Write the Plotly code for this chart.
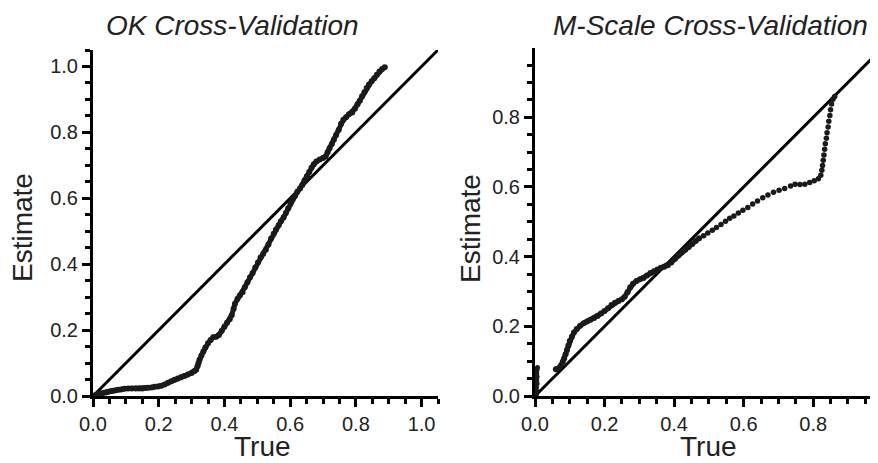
import plotly.graph_objects as go

# ---- data ----
ok_true = [0.003, 0.008, 0.015, 0.022, 0.030, 0.038, 0.046, 0.055, 0.065, 0.075, 0.085, 0.095,
           0.107, 0.118, 0.130, 0.140, 0.150, 0.158, 0.168, 0.178, 0.188, 0.198, 0.208, 0.218,
           0.228, 0.238, 0.248, 0.258, 0.268, 0.278, 0.289, 0.300, 0.308, 0.314, 0.318, 0.321,
           0.324, 0.330, 0.336, 0.342, 0.350, 0.358, 0.366, 0.375, 0.383, 0.392, 0.400, 0.408,
           0.416, 0.422, 0.428, 0.432, 0.440, 0.447, 0.455, 0.462, 0.470, 0.478, 0.486, 0.494,
           0.502, 0.510, 0.518, 0.526, 0.534, 0.542, 0.550, 0.557, 0.565, 0.572, 0.580, 0.587,
           0.594, 0.601, 0.607, 0.615, 0.622, 0.630, 0.637, 0.644, 0.651, 0.658, 0.665, 0.672,
           0.680, 0.690, 0.700, 0.708, 0.714, 0.720, 0.727, 0.733, 0.740, 0.748, 0.755, 0.762,
           0.770, 0.779, 0.789, 0.797, 0.805, 0.812, 0.819, 0.826, 0.833, 0.840, 0.848, 0.856,
           0.864, 0.872, 0.880, 0.888]
ok_est = [0.000, 0.003, 0.005, 0.007, 0.009, 0.011, 0.013, 0.015, 0.017, 0.019, 0.020, 0.022,
          0.023, 0.023, 0.023, 0.023, 0.023, 0.024, 0.025, 0.026, 0.028, 0.029, 0.031, 0.035,
          0.040, 0.045, 0.049, 0.053, 0.057, 0.061, 0.065, 0.070, 0.075, 0.080, 0.090, 0.100,
          0.110, 0.123, 0.135, 0.147, 0.160, 0.170, 0.178, 0.180, 0.185, 0.198, 0.210, 0.222,
          0.233, 0.245, 0.265, 0.280, 0.295, 0.305, 0.315, 0.330, 0.345, 0.360, 0.373, 0.390,
          0.405, 0.420, 0.432, 0.444, 0.460, 0.478, 0.492, 0.505, 0.518, 0.530, 0.542, 0.555,
          0.570, 0.584, 0.596, 0.608, 0.620, 0.630, 0.640, 0.655, 0.667, 0.680, 0.693, 0.703,
          0.712, 0.718, 0.722, 0.727, 0.740, 0.752, 0.765, 0.778, 0.792, 0.808, 0.826, 0.838,
          0.846, 0.855, 0.860, 0.872, 0.885, 0.896, 0.910, 0.922, 0.935, 0.945, 0.955, 0.964,
          0.975, 0.985, 0.992, 0.998]

ms_true = [0.004, 0.005, 0.004, 0.006, 0.005, 0.006, 0.005, 0.006, 0.007,
           0.060, 0.068, 0.075, 0.080, 0.084, 0.088, 0.092, 0.096, 0.100, 0.106, 0.112, 0.120,
           0.130, 0.140, 0.150, 0.160, 0.170, 0.180, 0.190, 0.200, 0.210, 0.220, 0.230, 0.240,
           0.250, 0.258, 0.266, 0.274, 0.282, 0.292, 0.302, 0.312, 0.322, 0.332, 0.342, 0.352,
           0.362, 0.372, 0.382, 0.392, 0.402, 0.412, 0.422, 0.432, 0.442, 0.452, 0.462, 0.472,
           0.485, 0.497, 0.510, 0.522, 0.535, 0.548, 0.560, 0.572, 0.585, 0.598, 0.612, 0.626,
           0.640, 0.655, 0.670, 0.686, 0.702, 0.718, 0.735, 0.748, 0.762, 0.776, 0.790, 0.803,
           0.815, 0.822, 0.825, 0.827, 0.829, 0.831, 0.833, 0.835, 0.838, 0.840, 0.843, 0.845,
           0.848, 0.850, 0.853, 0.857, 0.862]
ms_est = [0.005, 0.015, 0.025, 0.035, 0.045, 0.055, 0.065, 0.075, 0.082,
          0.077, 0.080, 0.088, 0.098, 0.108, 0.120, 0.132, 0.145, 0.158, 0.170, 0.182, 0.192,
          0.202, 0.209, 0.214, 0.219, 0.224, 0.230, 0.237, 0.244, 0.252, 0.261, 0.268, 0.273,
          0.278, 0.285, 0.298, 0.312, 0.322, 0.330, 0.335, 0.339, 0.346, 0.353, 0.358, 0.363,
          0.368, 0.371, 0.375, 0.383, 0.393, 0.403, 0.412, 0.420, 0.428, 0.436, 0.445, 0.453,
          0.460, 0.468, 0.476, 0.484, 0.492, 0.502, 0.510, 0.517, 0.525, 0.533, 0.541, 0.551,
          0.560, 0.569, 0.577, 0.585, 0.591, 0.596, 0.603, 0.608, 0.607, 0.608, 0.613, 0.618,
          0.624, 0.634, 0.648, 0.662, 0.677, 0.692, 0.708, 0.724, 0.740, 0.756, 0.772, 0.789,
          0.805, 0.822, 0.838, 0.852, 0.860]

diag_left = [0.0, 1.05]
diag_right = [0.0, 1.0]
tick_vals_left = [0.0, 0.2, 0.4, 0.6, 0.8, 1.0]
tick_vals_right = [0.0, 0.2, 0.4, 0.6, 0.8]

# The page body has an 8px margin, so the figure is drawn 8px in from the
# top-left of the 878x463 window.
OFF = 8
W, H = 878 - OFF, 463 - OFF
FONT = "Liberation Sans, Arial, Helvetica, sans-serif"
INK = "#1a1a1a"


def px(x):
    return (x - OFF) / W


def py(y):
    return 1 - (y - OFF) / H


fig = go.Figure()

# Left panel
fig.add_trace(go.Scatter(x=diag_left, y=diag_left, mode="lines",
                         line=dict(color="black", width=3), xaxis="x", yaxis="y",
                         showlegend=False, hoverinfo="skip"))
fig.add_trace(go.Scatter(x=ok_true, y=ok_est, mode="lines+markers",
                         line=dict(color=INK, width=5),
                         marker=dict(size=6, color=INK),
                         xaxis="x", yaxis="y", showlegend=False))
# Right panel
fig.add_trace(go.Scatter(x=diag_right, y=diag_right, mode="lines",
                         line=dict(color="black", width=3), xaxis="x2", yaxis="y2",
                         showlegend=False, hoverinfo="skip"))
fig.add_trace(go.Scatter(x=ms_true[:9], y=ms_est[:9], mode="markers",
                         marker=dict(size=5, color=INK),
                         xaxis="x2", yaxis="y2", showlegend=False))
fig.add_trace(go.Scatter(x=ms_true[9:57], y=ms_est[9:57], mode="lines+markers",
                         line=dict(color=INK, width=5),
                         marker=dict(size=6, color=INK),
                         xaxis="x2", yaxis="y2", showlegend=False))
fig.add_trace(go.Scatter(x=ms_true[57:], y=ms_est[57:], mode="markers",
                         marker=dict(size=5.5, color=INK),
                         xaxis="x2", yaxis="y2", showlegend=False))


def axis_style(rng, tickvals, domain, anchor):
    return dict(
        range=rng, domain=domain, anchor=anchor, automargin=False,
        tickvals=tickvals, ticktext=[f"{v:.1f}" for v in tickvals],
        showline=True, linecolor="black", linewidth=3,
        ticks="outside", ticklen=8, tickwidth=3, tickcolor="black",
        minor=dict(dtick=0.05, tick0=0, ticks="outside", ticklen=5, tickwidth=2.5,
                   tickcolor="black", showgrid=False),
        showgrid=False, zeroline=False,
        tickfont=dict(family=FONT, size=20, color="#222222"),
        fixedrange=True,
    )


fig.update_layout(
    width=W, height=H,
    margin=dict(l=0, r=0, t=0, b=0, autoexpand=False),
    paper_bgcolor="white", plot_bgcolor="white",
    xaxis=axis_style([0, 1.05], tick_vals_left, [px(93), px(438)], "y"),
    yaxis=axis_style([0, 1.05], tick_vals_left, [py(396), py(50)], "x"),
    xaxis2=axis_style([0, 0.9865], tick_vals_right, [px(535), 1.0], "y2"),
    yaxis2=axis_style([0, 0.999], tick_vals_right, [py(396), py(48)], "x2"),
)

ann_font = dict(family=FONT, size=28, color="#222222")
annotations = [
    dict(text="<i>OK Cross-Validation</i>", x=px(232), y=py(26)),
    dict(text="<i>M-Scale Cross-Validation</i>", x=px(710), y=py(26)),
    dict(text="Estimate", x=px(22), y=py(228), textangle=-90),
    dict(text="Estimate", x=px(470), y=py(228), textangle=-90),
    dict(text="True", x=px(262), y=py(446)),
    dict(text="True", x=px(708), y=py(446)),
]
for a in annotations:
    a.update(xref="paper", yref="paper", showarrow=False, xanchor="center",
             yanchor="middle", font=ann_font)
fig.update_layout(annotations=annotations)

fig.write_html("out.html")
